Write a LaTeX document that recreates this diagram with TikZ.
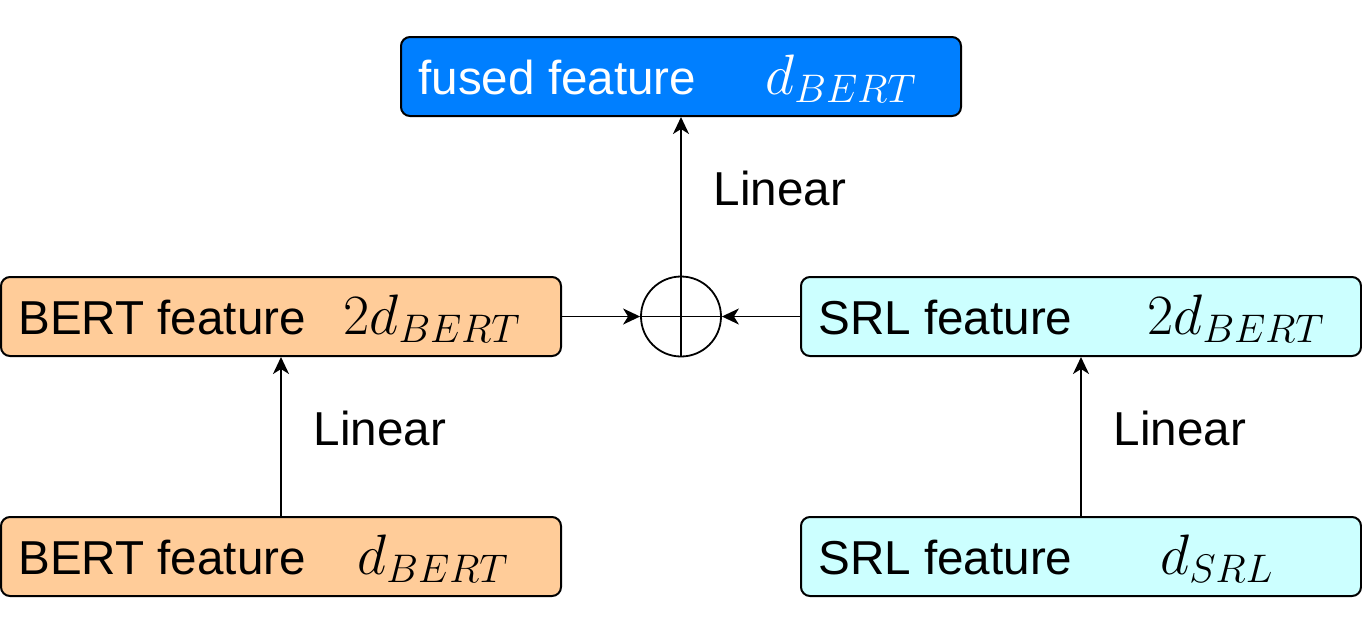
\documentclass[tikz,border=0pt]{standalone}
\usepackage{fix-cm}
\usepackage{fontspec}
\setmainfont{Liberation Sans}
\usetikzlibrary{arrows.meta}
\definecolor{fusedblue}{HTML}{007FFF}
\definecolor{bertorange}{HTML}{FFCC99}
\definecolor{srlcyan}{HTML}{CCFFFF}
\tikzset{
  featbox/.style={draw=black, line width=1pt, rounded corners=4.5pt, minimum width=280pt, minimum height=39.5pt, inner sep=0pt},
  txt/.style={inner sep=0pt, anchor=base west, font=\fontsize{23.8pt}{28pt}\selectfont},
  mth/.style={inner sep=0pt, anchor=base west, font=\fontsize{28.5pt}{32pt}\selectfont},
  conn/.style={line width=0.9pt, -{Stealth[length=8.5pt,width=8pt,inset=2.5pt]}},
  lbl/.style={inner sep=0pt, font=\fontsize{23.8pt}{28pt}\selectfont}
}
\begin{document}
\begin{tikzpicture}[x=0.5pt,y=-0.5pt]
\useasboundingbox (0,0) rectangle (1362,634);
% boxes
\node[featbox, fill=fusedblue] (fused) at (681,76.5) {};
\node[featbox, fill=bertorange] (bert2) at (281,316.5) {};
\node[featbox, fill=srlcyan] (srl2) at (1081,316.5) {};
\node[featbox, fill=bertorange] (bert1) at (281,556.5) {};
\node[featbox, fill=srlcyan] (srl1) at (1081,556.5) {};
\node[draw=black, line width=0.9pt, circle, minimum size=40pt, inner sep=0pt] (plus) at (681,316.5) {};
\draw[line width=0.9pt] (plus.north) -- (plus.south) (plus.west) -- (plus.east);
% texts
\node[txt, text=white] (tf) at (418,94) {fused feature};
\node[mth, text=white] (mf) at (765,94) {$d_{BERT}$};
\node[txt] (tb2) at (18,334) {BERT feature};
\node[mth] (mb2) at (343,334) {$2d_{BERT}$};
\node[txt] (ts2) at (818,334) {SRL feature};
\node[mth] (ms2) at (1147,334) {$2d_{BERT}$};
\node[txt] (tb1) at (18,574) {BERT feature};
\node[mth] (mb1) at (357,574) {$d_{BERT}$};
\node[txt] (ts1) at (818,574) {SRL feature};
\node[mth] (ms1) at (1160,574) {$d_{SRL}$};
% connectors
\draw[conn] (bert1.north) -- (bert2.south);
\draw[conn] (srl1.north) -- (srl2.south);
\draw[conn] (bert2.east) -- (plus.west);
\draw[conn] (srl2.west) -- (plus.east);
\draw[conn] (plus.north) -- (fused.south);
% labels
\node[lbl] (l1) at (780,188) {Linear};
\node[lbl] (l2) at (380,428) {Linear};
\node[lbl] (l3) at (1180,428) {Linear};
\end{tikzpicture}
\end{document}
